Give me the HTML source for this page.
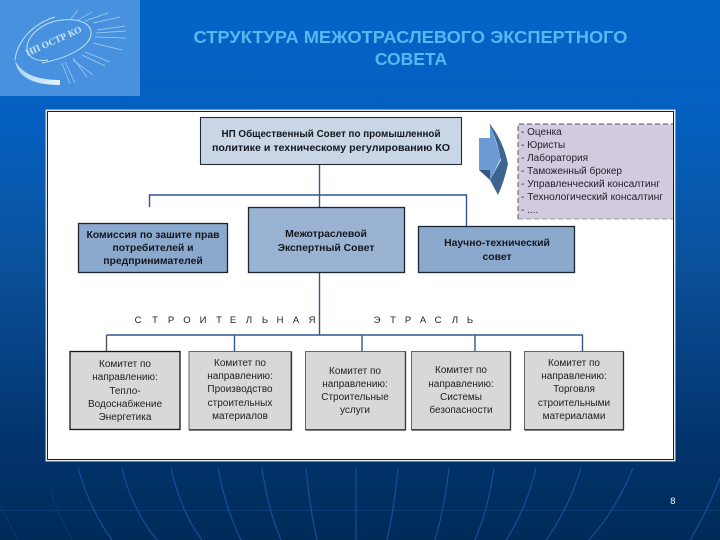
<!DOCTYPE html>
<html><head><meta charset="utf-8"><style>
html,body{margin:0;padding:0;width:720px;height:540px;overflow:hidden;background:#000}
svg{display:block}
text{font-family:"Liberation Sans","DejaVu Sans",sans-serif}
</style></head><body>
<svg xmlns="http://www.w3.org/2000/svg" width="720" height="540" viewBox="0 0 720 540">
<defs>
<linearGradient id="bg" x1="0" y1="0" x2="0" y2="1">
<stop offset="0" stop-color="#0364c8"/><stop offset=".22" stop-color="#0560c0"/><stop offset=".5" stop-color="#0a5099"/><stop offset=".8" stop-color="#02356f"/><stop offset="1" stop-color="#002a58"/>
</linearGradient>
<linearGradient id="band" x1="0" y1="0" x2="1" y2="0">
<stop offset="0" stop-color="#a8d4f5"/><stop offset="1" stop-color="#e6f2fc"/>
</linearGradient>
<filter id="b"><feGaussianBlur stdDeviation="0.28"/></filter>
<filter id="b2"><feGaussianBlur stdDeviation="0.25"/></filter>
</defs>
<rect width="720" height="540" fill="url(#bg)"/>
<g fill="none" stroke="#11559f" stroke-width="1.100" filter="url(#b2)">
<path d="M78 468Q90 510 112 540M122 468Q132 510 157 540M171 468Q180 510 202 540M218 468Q226 510 241 540M262 468Q268 510 281 540M306 468Q310 510 317 540M356 468V540M398 468Q394 510 387 540M449 468Q444 510 435 540M494 468Q488 510 475 540M536 468Q526 510 506 540M581 468Q568 510 546 540M633 468Q616 510 589 540M720 478Q708 510 690 540"/>
</g>
<path d="M0 510.500H720" stroke="#0c4582" stroke-width="1" opacity=".6"/>
<path d="M0 505Q10 525 18 540M50 490Q60 520 72 540" stroke="#083a72" fill="none"/>

<rect width="140" height="96" fill="#4791df"/>
<g fill="none" stroke="#bfe0f8" filter="url(#b2)">
<path d="M55 17C32 24 17 42 15 60" stroke-width="1"/>
<path d="M15 60Q18 85 60 85L60 80Q24 80 15 60Z" fill="url(#band)" stroke="none"/>
<path d="M48 60C36 62 27 57 27 48C27 36 42 22 62 20C80 18 91 24 91 33C91 45 72 57 42 63" stroke-width="1"/>
<g stroke-width=".7" opacity=".8">
<path d="M70 20L78 10M78 20L92 12M85 21L108 13M93 23L120 17M97 30L125 26M96 33L126 31M95 37L126 38M93 43L122 50M85 52L110 62M82 55L105 66M73 60L93 75M73 58L87 77M65 62L75 83M62 63L70 84"/>
</g>
</g>
<text x="55" y="44" font-size="9.500" font-weight="bold" fill="#cfe6f8" text-anchor="middle" style="font-family:'Liberation Serif',serif" transform="rotate(-24 55 44)" filter="url(#b2)">НП ОСТР КО</text>

<text x="410.500" y="43" font-size="17.500" font-weight="bold" fill="#55b8f0" text-anchor="middle" textLength="434" lengthAdjust="spacingAndGlyphs">СТРУКТУРА МЕЖОТРАСЛЕВОГО ЭКСПЕРТНОГО</text>
<text x="411" y="65" font-size="17.500" font-weight="bold" fill="#55b8f0" text-anchor="middle">СОВЕТА</text>

<rect x="46" y="110" width="629" height="351" fill="#fff" stroke="#cfd6dc" stroke-width="1"/>
<rect x="47.500" y="111.500" width="626" height="348" fill="#fff" stroke="#10223a" stroke-width="1"/>

<g fill="none" stroke="#2f5790" stroke-width="1.400">
<path d="M319.500 164V207M149.500 207V195H466.500V226M319.500 273V335M234.500 335V351M362 335V351M475 335V351M582.500 335V351M106.500 335H583"/>
</g>
<path d="M106.500 335V351" stroke="#555" stroke-width="1.400"/>

<rect x="200.500" y="117.500" width="261" height="47" fill="#c8d6e6" stroke="#222b38" stroke-width="1.100"/>
<rect x="78.500" y="223.500" width="149" height="49" fill="#8ba9cd" stroke="#1c2530" stroke-width="1.300"/>
<rect x="248.500" y="207.500" width="156" height="65" fill="#9ab3d3" stroke="#1c2530" stroke-width="1.300"/>
<rect x="418.500" y="226.500" width="156" height="46" fill="#8ba9cd" stroke="#1c2530" stroke-width="1.300"/>

<g font-size="10.400" font-weight="bold" fill="#14181f" text-anchor="middle" filter="url(#b)">
<text x="331" y="137" textLength="219" lengthAdjust="spacingAndGlyphs">НП Общественный Совет по промышленной</text>
<text x="331" y="151" textLength="238" lengthAdjust="spacingAndGlyphs">политике и техническому регулированию КО</text>
<text x="153" y="238" textLength="133" lengthAdjust="spacingAndGlyphs">Комиссия по зашите прав</text>
<text x="153" y="251">потребителей и</text>
<text x="153" y="264">предпринимателей</text>
<text x="326" y="237">Межотраслевой</text>
<text x="326" y="251">Экспертный Совет</text>
<text x="497" y="246">Научно-технический</text>
<text x="497" y="260">совет</text>
</g>

<g font-size="9.500" fill="#222" text-anchor="middle" filter="url(#b2)">
<text x="138" y="323">С</text><text x="155" y="323">Т</text><text x="171" y="323">Р</text><text x="187" y="323">О</text><text x="203" y="323">И</text><text x="219" y="323">Т</text><text x="233" y="323">Е</text><text x="249" y="323">Л</text><text x="265" y="323">Ь</text><text x="280" y="323">Н</text><text x="296" y="323">А</text><text x="312" y="323">Я</text>
<text x="377" y="323">Э</text><text x="393" y="323">Т</text><text x="408" y="323">Р</text><text x="423" y="323">А</text><text x="438" y="323">С</text><text x="455" y="323">Л</text><text x="470" y="323">Ь</text>
</g>

<g fill="#d8d8d8" stroke="#666" stroke-width="1">
<rect x="70" y="351.500" width="110" height="78" stroke="#151515" stroke-width="1.300"/>
<rect x="189" y="351.500" width="102" height="78"/>
<rect x="305.500" y="351.500" width="100" height="78"/>
<rect x="411.500" y="351.500" width="99" height="78"/>
<rect x="524.500" y="351.500" width="99" height="78"/>
</g>
<path d="M189 430H291.500V351.500M305.500 430H405.500V351.500M411.500 430H510.500V351.500M524.500 430H623.500V351.500" fill="none" stroke="#333" stroke-width="1.300"/>

<g font-size="10" fill="#222" text-anchor="middle" filter="url(#b)">
<text x="125" y="367">Комитет по</text><text x="125" y="380">направлению:</text><text x="125" y="394">Тепло-</text><text x="125" y="407">Водоснабжение</text><text x="125" y="420">Энергетика</text>
<text x="240" y="366">Комитет по</text><text x="240" y="379">направлению:</text><text x="240" y="392">Производство</text><text x="240" y="406">строительных</text><text x="240" y="419">материалов</text>
<text x="355" y="374">Комитет по</text><text x="355" y="387">направлению:</text><text x="355" y="400">Строительные</text><text x="355" y="413">услуги</text>
<text x="461" y="373">Комитет по</text><text x="461" y="387">направлению:</text><text x="461" y="400">Системы</text><text x="461" y="413">безопасности</text>
<text x="574" y="366">Комитет по</text><text x="574" y="379">направлению:</text><text x="574" y="392">Торговля</text><text x="574" y="406">строительными</text><text x="574" y="419">материалами</text>
</g>

<rect x="518" y="124" width="155" height="95" fill="#d2cbe0"/>
<path d="M518 219V124H673" fill="none" stroke="#555" stroke-width="1" stroke-dasharray="5 3"/>
<path d="M518 219H673" fill="none" stroke="#999" stroke-width="1" stroke-dasharray="5 3"/>
<g font-size="10" fill="#22222a" filter="url(#b)">
<text x="521" y="135">- Оценка</text><text x="521" y="148">- Юристы</text><text x="521" y="161">- Лаборатория</text><text x="521" y="174">- Таможенный брокер</text><text x="521" y="187" textLength="139" lengthAdjust="spacingAndGlyphs">- Управленческий консалтинг</text><text x="521" y="200" textLength="142" lengthAdjust="spacingAndGlyphs">- Технологический консалтинг</text><text x="521" y="213">- ....</text>
</g>

<path d="M479 138H490V123L501 158L490 180V170H479Z" fill="#6b9ad4"/>
<path d="M489 123Q503 140 508 164Q504 182 498 195L490 180L501 160Q497 140 489 123Z" fill="#3c6690"/>
<path d="M479 170H490V180Z" fill="#34577e"/>

<text x="670" y="504" font-size="9" fill="#e8eef5" style="font-family:'DejaVu Sans',sans-serif">8</text>
</svg>
</body></html>
